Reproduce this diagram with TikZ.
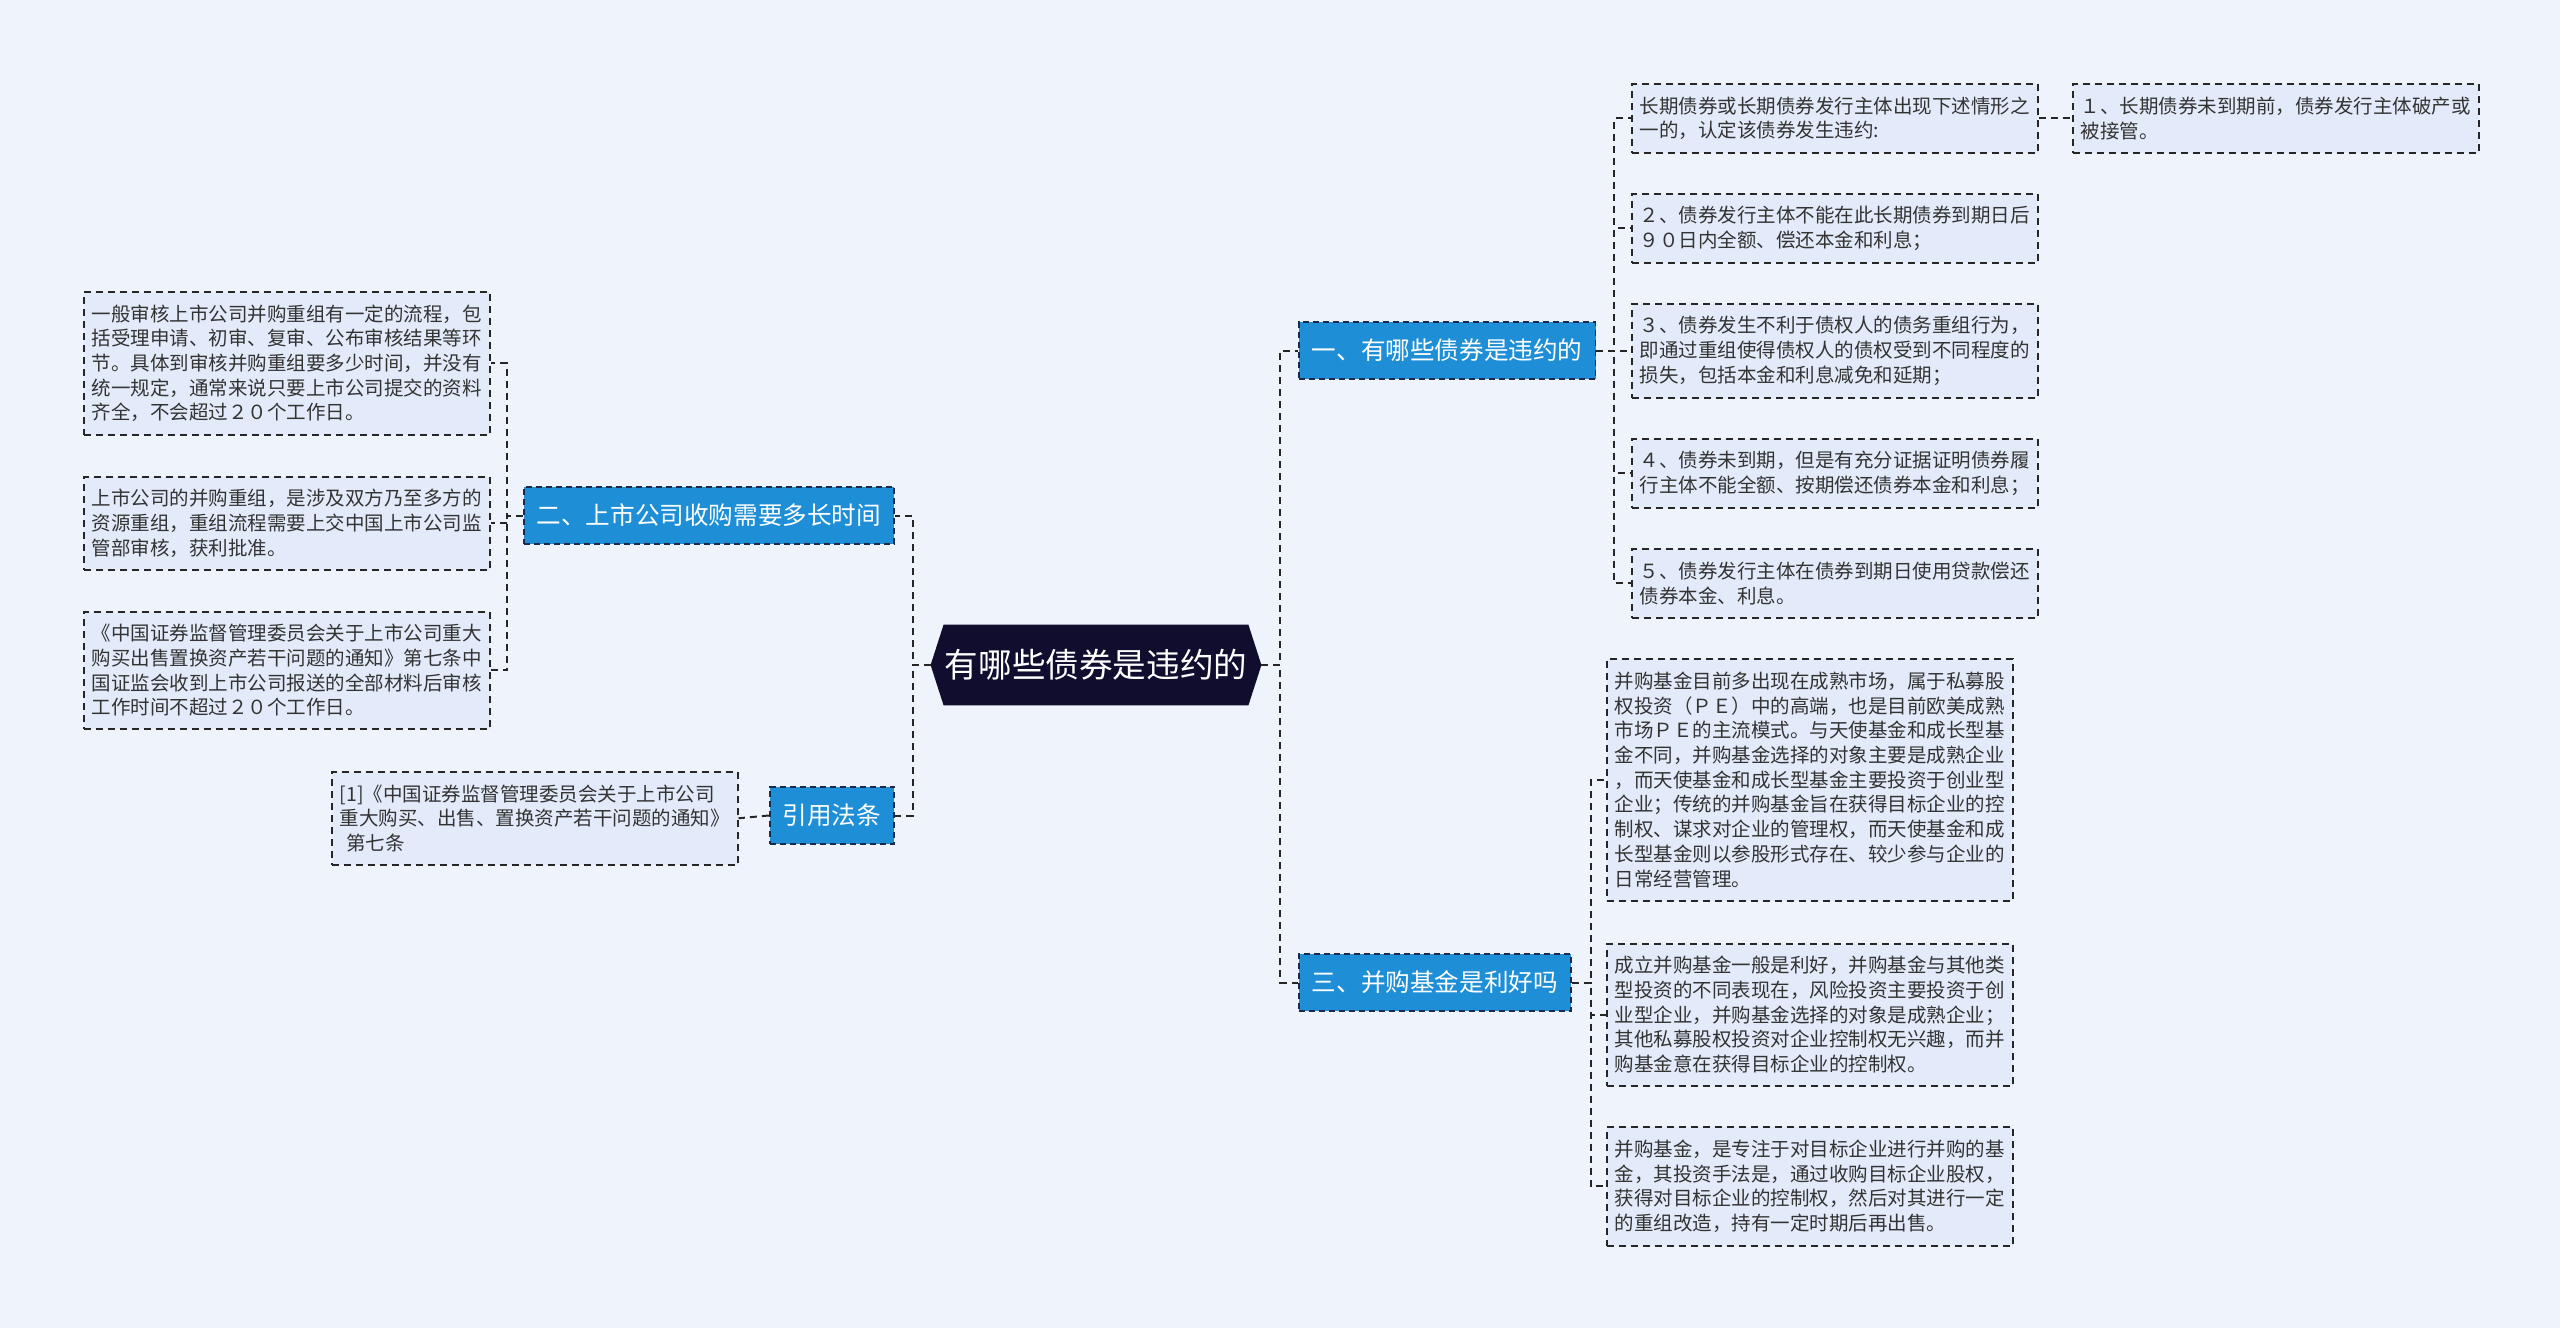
\documentclass[tikz,border=0pt]{standalone}
\usepackage{fontspec}
\setmainfont{Noto Sans CJK SC}
\usepackage{tikz}
\usetikzlibrary{positioning,calc,backgrounds}
\definecolor{canvas}{HTML}{EEF3FC}
\definecolor{leaffill}{HTML}{E3EBFA}
\definecolor{branchfill}{HTML}{1E8FD7}
\definecolor{branchline}{HTML}{1B2A4A}
\definecolor{rootfill}{HTML}{100D2F}
\definecolor{linkgray}{HTML}{262626}
\tikzset{
  root/.style={minimum width=165pt, minimum height=40pt, inner sep=0pt, text=white, font=\fontsize{16.8pt}{20pt}\selectfont},
  branch/.style={draw=branchline, dash pattern=on 3pt off 2pt, line width=0.9pt, fill=branchfill, text=white, inner xsep=6.5pt, inner ysep=0pt, minimum height=28.5pt, font=\fontsize{12.3pt}{15pt}\selectfont},
  leaf/.style={draw=linkgray, dash pattern=on 3.5pt off 2.5pt, line width=0.75pt, fill=leaffill, text=black!80, align=left, text width=195pt, inner xsep=4pt, inner ysep=0pt, anchor=north west, font=\fontsize{9.75pt}{12.35pt}\selectfont},
  link/.style={draw=linkgray, dash pattern=on 3.5pt off 2.5pt, line width=1pt}
}
\begin{document}
\begin{tikzpicture}[x=0.5pt, y=-0.5pt]
\useasboundingbox (0,0) rectangle (2560,1328);
\node[root] (c) at (1096,665) {有哪些债券是违约的};
\node[branch, anchor=west] (b1) at (1298,350.5) {一、有哪些债券是违约的};
\node[branch, anchor=east] (b2) at (895,515.5) {二、上市公司收购需要多长时间};
\node[branch, anchor=east] (b4) at (895,815.5) {引用法条};
\node[branch, anchor=west] (b3) at (1298,982.5) {三、并购基金是利好吗};
\node[leaf, minimum height=34.5pt] (l1a) at (1631,83) {长期债券或长期债券发行主体出现下述情形之\\一的，认定该债券发生违约:};
\node[leaf, minimum height=34.5pt] (l1b) at (2072,83) {１、长期债券未到期前，债券发行主体破产或\\被接管。};
\node[leaf, minimum height=34.5pt] (l1c) at (1631,193) {２、债券发行主体不能在此长期债券到期日后\\９０日内全额、偿还本金和利息；};
\node[leaf, minimum height=47pt] (l1d) at (1631,303) {３、债券发生不利于债权人的债务重组行为，\\即通过重组使得债权人的债权受到不同程度的\\损失，包括本金和利息减免和延期；};
\node[leaf, minimum height=34.5pt] (l1e) at (1631,438) {４、债券未到期，但是有充分证据证明债券履\\行主体不能全额、按期偿还债券本金和利息；};
\node[leaf, minimum height=34.5pt] (l1f) at (1631,548) {５、债券发行主体在债券到期日使用贷款偿还\\债券本金、利息。};
\node[leaf, minimum height=71.5pt] (l2a) at (83,291) {一般审核上市公司并购重组有一定的流程，包\\括受理申请、初审、复审、公布审核结果等环\\节。具体到审核并购重组要多少时间，并没有\\统一规定，通常来说只要上市公司提交的资料\\齐全，不会超过２０个工作日。};
\node[leaf, minimum height=46.5pt] (l2b) at (83,476) {上市公司的并购重组，是涉及双方乃至多方的\\资源重组，重组流程需要上交中国上市公司监\\管部审核，获利批准。};
\node[leaf, minimum height=58.5pt] (l2c) at (83,611) {《中国证券监督管理委员会关于上市公司重大\\购买出售置换资产若干问题的通知》第七条中\\国证监会收到上市公司报送的全部材料后审核\\工作时间不超过２０个工作日。};
\node[leaf, minimum height=46.5pt] (l4) at (331,771) {[1]《中国证券监督管理委员会关于上市公司\\重大购买、出售、置换资产若干问题的通知》\\\hspace*{0.33em}第七条};
\node[leaf, minimum height=121pt] (l3a) at (1606,658) {并购基金目前多出现在成熟市场，属于私募股\\权投资（ＰＥ）中的高端，也是目前欧美成熟\\市场ＰＥ的主流模式。与天使基金和成长型基\\金不同，并购基金选择的对象主要是成熟企业\\，而天使基金和成长型基金主要投资于创业型\\企业；传统的并购基金旨在获得目标企业的控\\制权、谋求对企业的管理权，而天使基金和成\\长型基金则以参股形式存在、较少参与企业的\\日常经营管理。};
\node[leaf, minimum height=71pt] (l3b) at (1606,943) {成立并购基金一般是利好，并购基金与其他类\\型投资的不同表现在，风险投资主要投资于创\\业型企业，并购基金选择的对象是成熟企业；\\其他私募股权投资对企业控制权无兴趣，而并\\购基金意在获得目标企业的控制权。};
\node[leaf, minimum height=59.5pt] (l3c) at (1606,1126) {并购基金，是专注于对目标企业进行并购的基\\金，其投资手法是，通过收购目标企业股权，\\获得对目标企业的控制权，然后对其进行一定\\的重组改造，持有一定时期后再出售。};
\begin{scope}[on background layer]
\fill[canvas] (0,0) rectangle (2560,1328);
\fill[rootfill] (c.west) -- ([xshift=6.5pt]c.north west) -- ([xshift=-6.5pt]c.north east) -- (c.east) -- ([xshift=-6.5pt]c.south east) -- ([xshift=6.5pt]c.south west) -- cycle;
\end{scope}
\draw[link] (c.east) -- ++(19,0) |- (b1.west);
\draw[link] (c.east) -- ++(19,0) |- (b3.west);
\draw[link] (c.west) -- ++(-18,0) |- (b2.east);
\draw[link] (c.west) -- ++(-18,0) |- (b4.east);
\draw[link] (b1.east) -- ++(18,0) |- (l1a.west);
\draw[link] (b1.east) -- ++(18,0) |- (l1c.west);
\draw[link] (b1.east) -- ++(18,0) |- (l1d.west);
\draw[link] (b1.east) -- ++(18,0) |- (l1e.west);
\draw[link] (b1.east) -- ++(18,0) |- (l1f.west);
\draw[link] (l1a.east) -- (l1b.west);
\draw[link] (b2.west) -- ++(-16,0) |- (l2a.east);
\draw[link] (b2.west) -- ++(-16,0) |- (l2b.east);
\draw[link] (b2.west) -- ++(-16,0) |- (l2c.east);
\draw[link] (b4.west) -- (l4.east);
\draw[link] (b3.east) -- ++(19,0) |- (l3a.west);
\draw[link] (b3.east) -- ++(19,0) |- (l3b.west);
\draw[link] (b3.east) -- ++(19,0) |- (l3c.west);
\end{tikzpicture}
\end{document}
